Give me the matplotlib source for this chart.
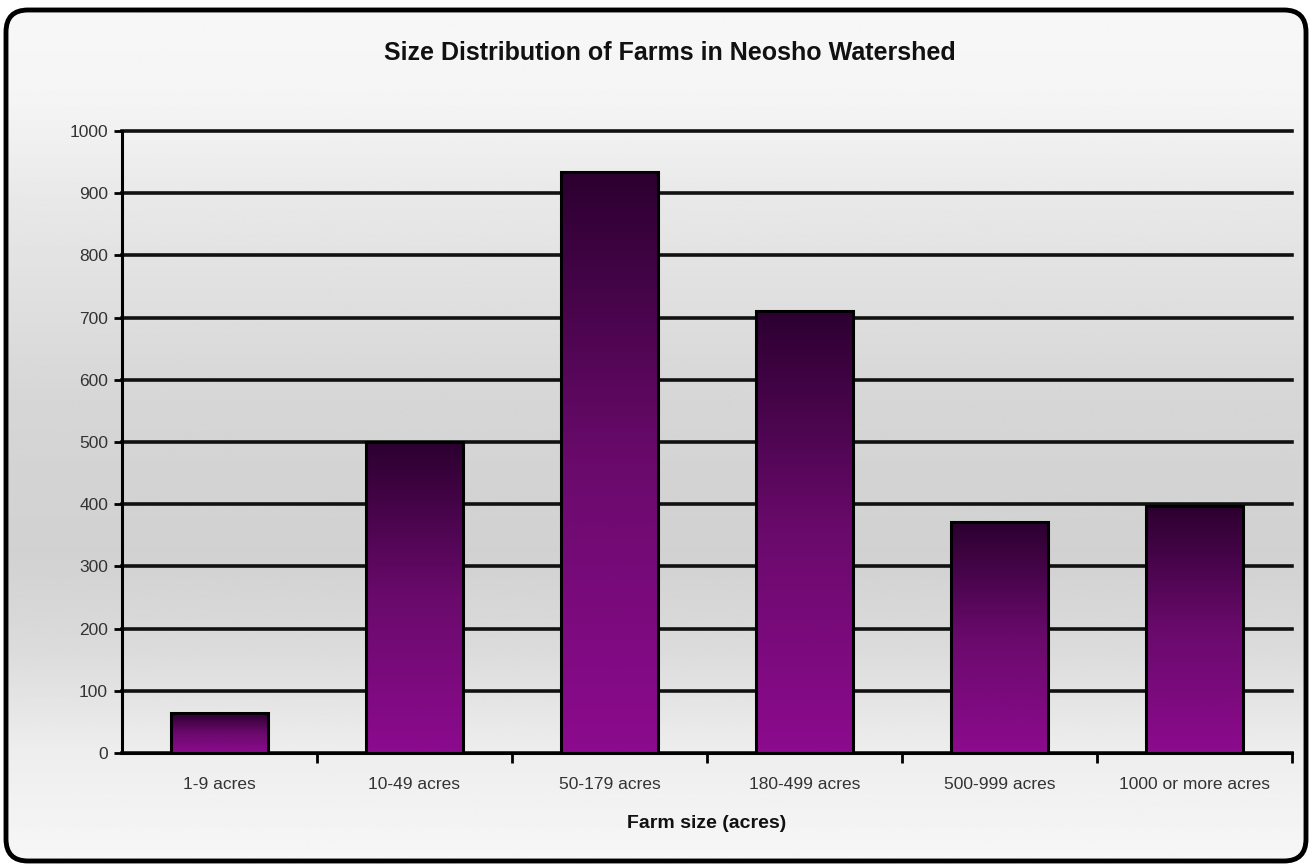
import numpy as np
import matplotlib
matplotlib.use("Agg")
import matplotlib.pyplot as plt
from matplotlib.patches import FancyBboxPatch
from matplotlib.colors import LinearSegmentedColormap

categories = ["1-9 acres", "10-49 acres", "50-179 acres", "180-499 acres",
              "500-999 acres", "1000 or more acres"]
farm_counts = [64, 500, 934, 711, 371, 397]
y_ticks = list(range(0, 1001, 100))
title = "Size Distribution of Farms in Neosho Watershed"
x_label = "Farm size (acres)"

plt.rcParams["font.family"] = ["Liberation Sans", "DejaVu Sans"]

W, H = 1314, 867
fig = plt.figure(figsize=(W / 100, H / 100), dpi=100)
fig.patch.set_facecolor("white")

# full-figure background: grey vertical gradient inside a rounded frame
bg = fig.add_axes([0, 0, 1, 1])
bg.set_xlim(0, W)
bg.set_ylim(H, 0)
bg.axis("off")
frame = FancyBboxPatch((6, 10), W - 14, H - 16,
                       boxstyle="round,pad=0,rounding_size=22",
                       facecolor="none", edgecolor="black", linewidth=3.5,
                       zorder=3)
bg.add_patch(frame)
stops_y = np.array([0, 100, 200, 400, 550, 650, 750, 867]) / H
stops_v = np.array([0.97, 0.96, 0.91, 0.84, 0.82, 0.86, 0.93, 0.97])
yy = np.linspace(0, 1, 400)
vals = np.interp(yy, stops_y, stops_v)
grad = np.repeat(vals[:, None], 2, axis=1)
img = bg.imshow(grad, extent=(0, W, H, 0), cmap="gray", vmin=0, vmax=1,
                aspect="auto", zorder=1)
clip = FancyBboxPatch((6, 10), W - 14, H - 16,
                      boxstyle="round,pad=0,rounding_size=22",
                      transform=bg.transData, facecolor="none")
img.set_clip_path(clip)

# main plot area
ax = fig.add_axes([122 / W, 1 - 753 / H, (1292 - 122) / W, (753 - 131) / H])
ax.set_facecolor("none")
x = np.arange(len(categories))

for yv in y_ticks:
    ax.axhline(yv, color="#111111", linewidth=2.6, zorder=1, clip_on=False)

# each bar shades from magenta at its base to near-black purple at its top
bar_cmap = LinearSegmentedColormap.from_list(
    "purple_fade", ["#8c0a8e", "#6a0a6c", "#2c0030"])
bars = ax.bar(x, farm_counts, width=0.5, color="none", edgecolor="black",
              linewidth=2.2, zorder=4)
for b in bars:
    bx, by = b.get_x(), b.get_y()
    bw, bh = b.get_width(), b.get_height()
    g = np.linspace(0, 1, 256)[:, None]
    ax.imshow(g, extent=(bx, bx + bw, by, by + bh), origin="lower",
              cmap=bar_cmap, vmin=0, vmax=1, aspect="auto", zorder=3)
ax.set_xlim(-0.5, len(categories) - 0.5)
ax.set_ylim(0, 1000)

for side in ["top", "right"]:
    ax.spines[side].set_visible(False)
ax.spines["left"].set_linewidth(2.2)
ax.spines["bottom"].set_linewidth(2.2)

ax.set_yticks(y_ticks)
ax.set_yticklabels([str(v) for v in y_ticks], color="#333333", fontsize=12.5)
ax.tick_params(axis="y", direction="out", length=6, width=2, pad=4)

ax.set_xticks(x)
ax.set_xticklabels(categories, color="#333333", fontsize=12.5)
ax.tick_params(axis="x", length=0, pad=17)
ax.set_xticks(np.arange(0.5, len(categories) - 0.5 + 1e-9, 1.0), minor=True)
ax.tick_params(axis="x", which="minor", direction="out", length=7, width=2)

ax.set_xlabel(x_label, fontsize=14, fontweight="bold", color="#111111",
              labelpad=17)
fig.text(0.5 + 0.01, 1 - 53 / H, title, ha="center", va="center",
         fontsize=18, fontweight="bold", color="#111111")

fig.savefig("out.png", dpi=100)
